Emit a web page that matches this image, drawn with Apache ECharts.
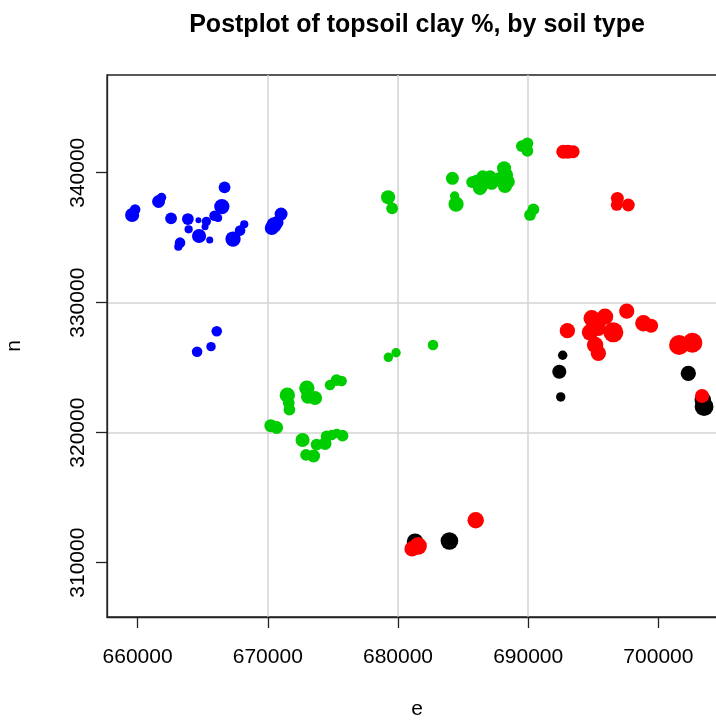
<!DOCTYPE html>
<html>
<head>
<meta charset="utf-8">
<script src="https://cdn.jsdelivr.net/npm/echarts@6/dist/echarts.min.js"></script>
<style>
  html, body { margin: 0; padding: 0; background: #fff; }
  #chart { width: 716px; height: 720px; }
</style>
</head>
<body>
<div id="chart"></div>
<script>
// Observation sites: [easting e, northing n, topsoil clay %], grouped by soil type
const typeBlue = [
  [659580, 336750, 48], [659810, 337170, 36], [661610, 337790, 44], [661840, 338090, 32],
  [662570, 336490, 40], [663860, 336440, 40], [664670, 336340, 20], [663920, 335650, 28],
  [664720, 335130, 48], [665540, 334820, 24], [663260, 334620, 36], [663130, 334310, 28],
  [665280, 336260, 32], [665180, 335850, 24], [665910, 336690, 36], [666180, 336520, 28],
  [666470, 337400, 52], [666680, 338880, 40], [667330, 334900, 52], [667870, 335550, 36],
  [668190, 336030, 28], [670310, 335750, 48], [670480, 335980, 52], [670710, 336170, 44],
  [671020, 336820, 44], [666080, 327800, 36], [665640, 326620, 32], [664570, 326230, 36]
];
const typeGreen = [
  [670230, 320540, 44], [670680, 320400, 44], [671500, 322890, 52], [671610, 322290, 40],
  [671660, 321780, 40], [673000, 323420, 52], [673090, 322770, 48], [673630, 322670, 48],
  [674780, 323670, 36], [675280, 324050, 40], [675670, 323980, 36], [672670, 319440, 48],
  [672940, 318290, 40], [673520, 318210, 44], [673750, 319090, 40], [674400, 319170, 44],
  [674520, 319710, 40], [674900, 319820, 36], [675300, 319950, 32], [675740, 319770, 40],
  [679260, 325800, 32], [679850, 326150, 32], [682690, 326750, 36],
  [679240, 338110, 48], [679550, 337260, 40], [684180, 339570, 44], [684350, 338210, 32],
  [684460, 337590, 52], [686050, 339310, 48], [686510, 339690, 44], [686430, 339050, 48],
  [687070, 339690, 44], [687200, 339180, 44], [687710, 339440, 44], [688150, 340340, 48],
  [688300, 339820, 48], [688480, 339310, 44], [685690, 339280, 40], [686300, 338820, 48],
  [688220, 338980, 48], [687820, 339520, 48], [689510, 342050, 40],
  [689940, 342260, 40], [689940, 341690, 40], [690400, 337180, 40], [690140, 336750, 40]
];
const typeBlack = [
  [692650, 325960, 32], [692390, 324690, 48], [692500, 322750, 32], [702300, 324570, 52],
  [703410, 322520, 56], [703510, 322000, 64], [681310, 311620, 56], [683950, 311670, 60]
];
const typeRed = [
  [692700, 341620, 48], [693060, 341620, 48], [693450, 341620, 44], [696850, 338030, 44],
  [696800, 337520, 40], [697690, 337520, 44], [693010, 327850, 52], [694880, 328800, 56],
  [695900, 328920, 56], [694750, 327720, 56], [695390, 328030, 52], [696540, 327720, 68],
  [695140, 326750, 56], [695390, 326110, 52], [697570, 329360, 52], [698850, 328420, 56],
  [699440, 328230, 48], [701590, 326750, 68], [702610, 326920, 68], [703350, 322820, 48],
  [685970, 313260, 56], [681080, 311060, 52], [681540, 311290, 60]
];

// Axis extents and labelled ticks
const eRange = [657650, 705270];
const nRange = [305820, 347520];
const eTicks = [660000, 670000, 680000, 690000, 700000];
const nTicks = [310000, 320000, 330000, 340000];

const FONT = '"Liberation Sans", Arial, Helvetica, sans-serif';
// symbol diameter grows with clay content
const clayToSize = v => v[2] / 3.4;

function pointSeries(name, data, color) {
  return {
    name: name,
    type: 'scatter',
    data: data,
    symbol: 'circle',
    symbolSize: clayToSize,
    itemStyle: { color: color, opacity: 1, borderWidth: 0 },
    emphasis: { disabled: true },
    clip: true
  };
}

const chart = echarts.init(document.getElementById('chart'), null, { renderer: 'canvas' });

const axisCommon = {
  type: 'value',
  axisLine: { show: true, lineStyle: { color: '#222', width: 1.3 } },
  axisTick: { show: true, length: 11, inside: false, lineStyle: { color: '#222', width: 1.3 } },
  splitLine: { show: true, showMinLine: false, showMaxLine: false, lineStyle: { color: '#d3d3d3', width: 1.5 } },
  nameLocation: 'middle',
  nameTextStyle: { fontFamily: FONT, fontSize: 21, color: '#000' }
};

chart.setOption({
  animation: false,
  backgroundColor: '#ffffff',
  graphic: [{
    type: 'text',
    x: 417,
    y: 25,
    style: {
      text: 'Postplot of topsoil clay %, by soil type',
      fontFamily: FONT,
      fontSize: 25,
      fontWeight: 'bold',
      fill: '#000',
      textAlign: 'center',
      textVerticalAlign: 'middle'
    }
  }],
  grid: {
    left: 107, right: -11, top: 75, bottom: 103,
    containLabel: false,
    outerBoundsMode: 'none',
    show: true, borderColor: '#222', borderWidth: 1.3, backgroundColor: 'transparent'
  },
  xAxis: Object.assign({}, axisCommon, {
    min: eRange[0], max: eRange[1],
    name: 'e', nameGap: 82,
    axisTick: Object.assign({}, axisCommon.axisTick, { customValues: eTicks }),
    axisLabel: {
      customValues: eTicks, margin: 30,
      fontFamily: FONT, fontSize: 21, color: '#000',
      formatter: v => String(v)
    }
  }),
  yAxis: Object.assign({}, axisCommon, {
    min: nRange[0], max: nRange[1],
    name: 'n', nameGap: 82, nameRotate: 90,
    axisTick: Object.assign({}, axisCommon.axisTick, { customValues: nTicks }),
    axisLabel: {
      customValues: nTicks, margin: 18, rotate: 90,
      fontFamily: FONT, fontSize: 21, color: '#000',
      formatter: v => String(v)
    }
  }),
  series: [
    pointSeries('blue', typeBlue, '#0000ff'),
    pointSeries('green', typeGreen, '#00cd00'),
    pointSeries('black', typeBlack, '#000000'),
    pointSeries('red', typeRed, '#ff0000')
  ]
});
</script>
</body>
</html>
